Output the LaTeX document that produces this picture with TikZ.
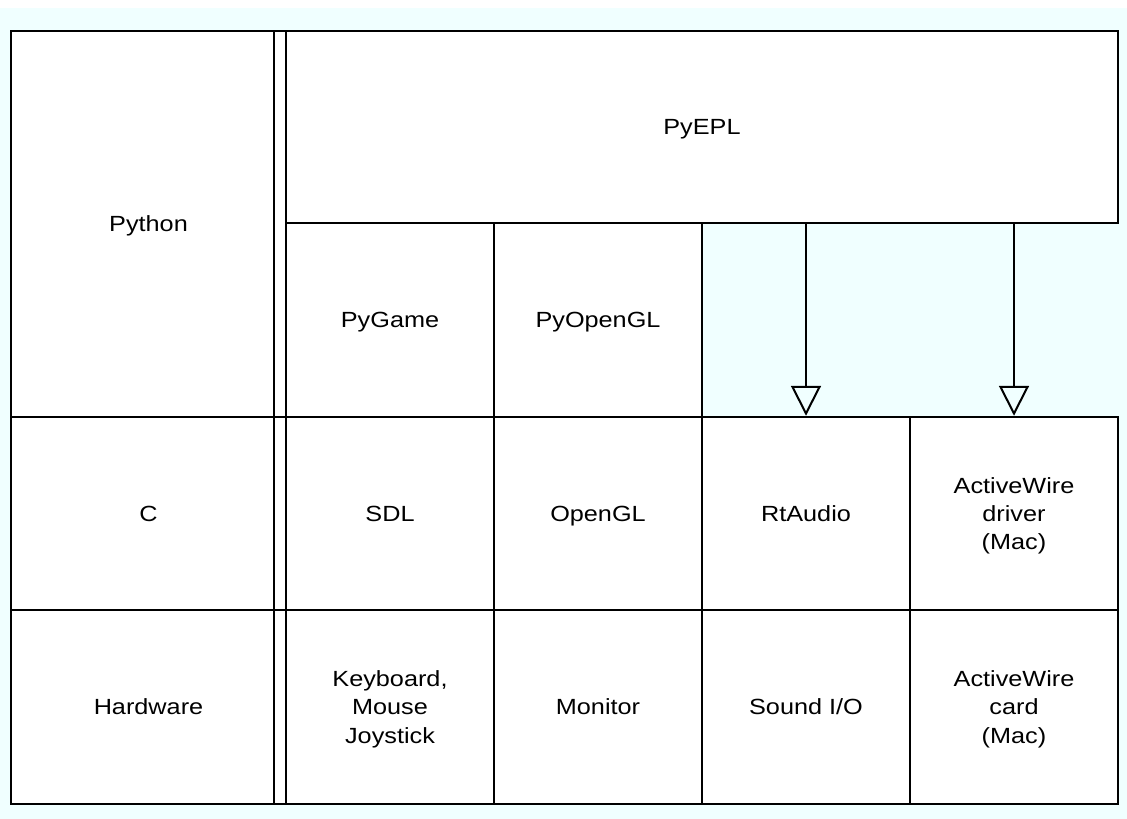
\documentclass[tikz,border=0pt]{standalone}
\usepackage{fontspec}
\setmainfont{Liberation Sans}[FakeStretch=1.15]
\usetikzlibrary{arrows.meta}
\definecolor{bgcyan}{RGB}{240,255,255}

\begin{document}
\begin{tikzpicture}[
        x=0.02cm, y=-0.02cm,
        cell/.style={rectangle, draw, fill=white, line width=1.15pt, inner sep=0pt, minimum width=4.16cm, minimum height=3.87cm, align=center, text depth=0pt, font=\fontsize{12.5}{16.2}\selectfont},
        side/.style={cell, minimum width=5.5cm},
        uses/.style={-{Triangle[open, length=17pt, width=17pt]}, line width=1.15pt}
    ]

    % background
    \fill[white] (0,0) rectangle (1127,819);
    \fill[bgcyan] (0,8) rectangle (1127,819);
    \useasboundingbox (0,0) rectangle (1127,819);

    % left column
    \node[side, minimum height=7.72cm] (python) at (148.5,224) {Python};
    \node[side] (c) at (148.5,513.5) {C};
    \node[side, minimum height=3.88cm] (hardware) at (148.5,707) {Hardware};
    \draw[line width=1.15pt] ([xshift=-0.26cm]python.north east) -- ([xshift=-0.26cm]hardware.south east);

    % python layer
    \node[cell, minimum width=16.64cm, minimum height=3.84cm] (pyepl) at (702,127) {PyEPL};
    \node[cell, minimum height=3.88cm] (pygame) at (390,320) {PyGame};
    \node[cell, minimum height=3.88cm] (pyopengl) at (598,320) {PyOpenGL};

    % C layer
    \node[cell] (sdl) at (390,513.5) {SDL};
    \node[cell] (opengl) at (598,513.5) {OpenGL};
    \node[cell] (rtaudio) at (806,513.5) {RtAudio};
    \node[cell] (awdriver) at (1014,513.5) {ActiveWire\\driver\\(Mac)};

    % hardware layer
    \node[cell, minimum height=3.88cm] (keyboard) at (390,707) {Keyboard,\\Mouse\\Joystick};
    \node[cell, minimum height=3.88cm] (monitor) at (598,707) {Monitor};
    \node[cell, minimum height=3.88cm] (soundio) at (806,707) {Sound I/O};
    \node[cell, minimum height=3.88cm] (awcard) at (1014,707) {ActiveWire\\card\\(Mac)};

    \draw[uses] (pyepl.south -| rtaudio) -- (rtaudio.north);
    \draw[uses] (pyepl.south -| awdriver) -- (awdriver.north);

\end{tikzpicture}
\end{document}
